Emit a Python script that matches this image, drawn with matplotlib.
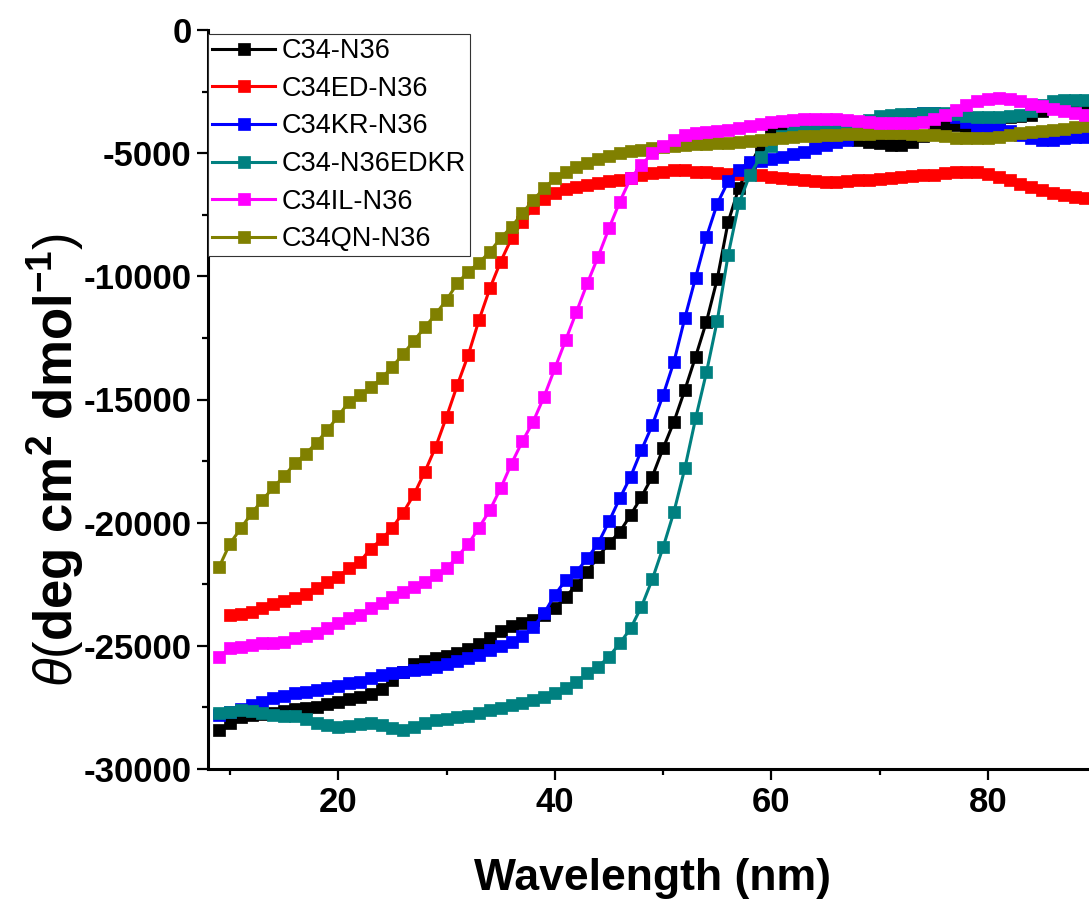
import numpy as np
import matplotlib
matplotlib.use("Agg")
import matplotlib.pyplot as plt

# ──────────────────────────────────────────────
# data (wavelength 9..89 nm, step 1)
wavelength = np.arange(9, 90)

c34_n36 = [
    -28420, -28150, -27880, -27810, -27780, -27710, -27630, -27580, -27540, -27470,
    -27360, -27270, -27170, -27070, -26950, -26750, -26400, -26050, -25750, -25600,
    -25480, -25400, -25280, -25140, -24940, -24670, -24400, -24200, -24080, -23950,
    -23750, -23480, -23010, -22530, -21990, -21380, -20840, -20370, -19690, -18950,
    -18130, -16980, -15900, -14620, -13260, -11840, -10100, -7800, -6400, -5500,
    -4700, -4200, -4100, -4150, -4200, -4250, -4300, -4350, -4400, -4450,
    -4550, -4600, -4650, -4650, -4550, -4300, -4000, -3850, -3850, -3900,
    -3900, -3800, -3650, -3550, -3500, -3450, -3300, -3150, -3050, -3000,
    -2950]

c34ed_n36 = [
    np.nan, -23750, -23720, -23610, -23480, -23300, -23170, -23070, -22900, -22670,
    -22400, -22190, -21860, -21590, -21050, -20680, -20200, -19590, -18850, -17930,
    -16920, -15700, -14410, -13200, -11770, -10490, -9400, -8460, -7780, -7240,
    -6870, -6600, -6450, -6360, -6300, -6230, -6150, -6090, -6000, -5890,
    -5800, -5750, -5700, -5700, -5750, -5780, -5820, -5840, -5850, -5850,
    -5880, -5950, -6000, -6060, -6100, -6150, -6160, -6170, -6150, -6100,
    -6080, -6050, -6000, -5950, -5920, -5900, -5880, -5820, -5760, -5750,
    -5780, -5850, -5950, -6100, -6250, -6360, -6480, -6600, -6700, -6780,
    -6830]

c34kr_n36 = [
    -27800, -27700, -27550, -27400, -27270, -27130, -27040, -26930, -26860, -26800,
    -26730, -26630, -26520, -26460, -26320, -26190, -26120, -26080, -26000, -25950,
    -25850, -25750, -25620, -25500, -25360, -25160, -25000, -24850, -24620, -24250,
    -23680, -22940, -22330, -21990, -21450, -20840, -19950, -19010, -18130, -17050,
    -16040, -14820, -13470, -11700, -10050, -8400, -7050, -6150, -5680, -5350,
    -5300, -5250, -5150, -5050, -4950, -4800, -4650, -4550, -4450, -4200,
    -3900, -3650, -3550, -3480, -3400, -3350, -3350, -3400, -3550, -3750,
    -3900, -3950, -3950, -4100, -4250, -4400, -4450, -4450, -4400, -4350,
    -4350]

c34_n36edkr = [
    -27740, -27670, -27600, -27650, -27740, -27810, -27850, -27850, -27950, -28150,
    -28220, -28290, -28250, -28180, -28150, -28220, -28350, -28420, -28290, -28120,
    -28010, -27950, -27880, -27850, -27740, -27600, -27540, -27400, -27310, -27200,
    -27090, -26930, -26730, -26460, -26120, -25850, -25440, -24900, -24290, -23410,
    -22300, -21000, -19560, -17800, -15770, -13900, -11800, -9140, -7040, -5890,
    -5150, -4700, -4300, -4150, -4050, -4000, -3970, -3930, -3900, -3800,
    -3650, -3500, -3450, -3420, -3400, -3380, -3350, -3350, -3400, -3500,
    -3550, -3550, -3550, -3500, -3450, -3300, -3050, -2900, -2850, -2850,
    -2850]

c34il_n36 = [
    -25440, -25100, -25030, -24970, -24900, -24900, -24830, -24700, -24600, -24470,
    -24290, -24090, -23880, -23750, -23480, -23280, -23000, -22800, -22600, -22400,
    -22130, -21860, -21380, -20870, -20200, -19490, -18600, -17600, -16700, -15900,
    -14890, -13740, -12590, -11440, -10280, -9200, -8050, -6970, -6020, -5480,
    -5000, -4700, -4450, -4250, -4200, -4150, -4100, -4050, -3970, -3900,
    -3820, -3750, -3700, -3650, -3620, -3600, -3600, -3620, -3650, -3700,
    -3730, -3760, -3780, -3780, -3780, -3750, -3600, -3450, -3250, -3050,
    -2900, -2800, -2770, -2800, -2900, -3000, -3100, -3200, -3300, -3380,
    -3450]

c34qn_n36 = [
    -21800, -20850, -20230, -19620, -19080, -18570, -18110, -17590, -17210, -16750,
    -16240, -15670, -15090, -14820, -14510, -14140, -13670, -13150, -12610, -12070,
    -11530, -10960, -10280, -9810, -9450, -9000, -8450, -7990, -7440, -6900,
    -6430, -6020, -5750, -5550, -5390, -5250, -5120, -5010, -4930, -4870,
    -4790, -4740, -4690, -4660, -4630, -4620, -4600, -4580, -4560, -4520,
    -4480, -4440, -4400, -4350, -4320, -4300, -4280, -4260, -4240, -4220,
    -4210, -4200, -4200, -4200, -4220, -4250, -4280, -4320, -4370, -4400,
    -4400, -4380, -4330, -4260, -4200, -4150, -4100, -4050, -4000, -3950,
    -3900]

series = [
    ("C34-N36", c34_n36, "#000000"),
    ("C34ED-N36", c34ed_n36, "#FF0000"),
    ("C34KR-N36", c34kr_n36, "#0000FF"),
    ("C34-N36EDKR", c34_n36edkr, "#008080"),
    ("C34IL-N36", c34il_n36, "#FF00FF"),
    ("C34QN-N36", c34qn_n36, "#808000"),
]

# ──────────────────────────────────────────────
plt.rcParams['font.family'] = ['Liberation Sans', 'DejaVu Sans']
plt.rcParams['axes.unicode_minus'] = False
plt.rcParams['mathtext.fontset'] = 'custom'
plt.rcParams['mathtext.rm'] = 'Liberation Sans'
plt.rcParams['mathtext.it'] = 'Liberation Sans:italic'
plt.rcParams['mathtext.bf'] = 'Liberation Sans:bold'

W, H = 1089, 901
fig = plt.figure(figsize=(W / 100, H / 100), dpi=100)
ax = fig.add_axes([208.3 / W, 132 / H, 888 / W, 739 / H])

zorders = [2, 2.1, 2.2, 2.3, 2.5, 2.4]
for (label, vals, col), z in zip(series, zorders):
    ax.plot(wavelength, vals, color=col, lw=2.2, marker='s', ms=8.8,
            mec=col, mew=0.5, label=label, zorder=z)

ax.set_xlim(8, 90)
ax.set_ylim(-30000, 0)
ax.set_xticks([20, 40, 60, 80])
ax.set_xticks([10, 30, 50, 70], minor=True)
ax.set_yticks(np.arange(-30000, 1, 5000))
ax.set_yticks(np.arange(-27500, 0, 5000), minor=True)

for s in ['top', 'right']:
    ax.spines[s].set_visible(False)
for s in ['left', 'bottom']:
    ax.spines[s].set_linewidth(2.2)

ax.tick_params(which='major', direction='out', length=8, width=1.6,
               labelsize=25, pad=4)
ax.tick_params(which='minor', direction='out', length=4.5, width=1.6)
for t in ax.get_xticklabels() + ax.get_yticklabels():
    t.set_fontweight('bold')

ax.set_xlabel('Wavelength (nm)', fontsize=32, fontweight='bold', labelpad=28)

fig.text(55 / W, 1 - 460 / H,
         r'$\mathit{\theta}$' + r'$\mathrm{(}$' + 'deg cm' + r'$^{\mathbf{2}}$'
         + ' dmol' + r'$^{\mathbf{-1}}$' + r'$\mathrm{)}$',
         rotation=90, fontsize=38, fontweight='bold', ha='center', va='center')

leg = ax.legend(loc='upper left', bbox_to_anchor=(0, 1 - 4 / 739),
                borderaxespad=0, fontsize=19.5, frameon=True, fancybox=False,
                handlelength=2.3, handletextpad=0.25, labelspacing=0.43,
                borderpad=0.15, numpoints=1)
leg.get_frame().set_edgecolor('#333333')
leg.get_frame().set_linewidth(0.8)
leg.get_frame().set_alpha(1)

fig.savefig('out.png', dpi=100)
